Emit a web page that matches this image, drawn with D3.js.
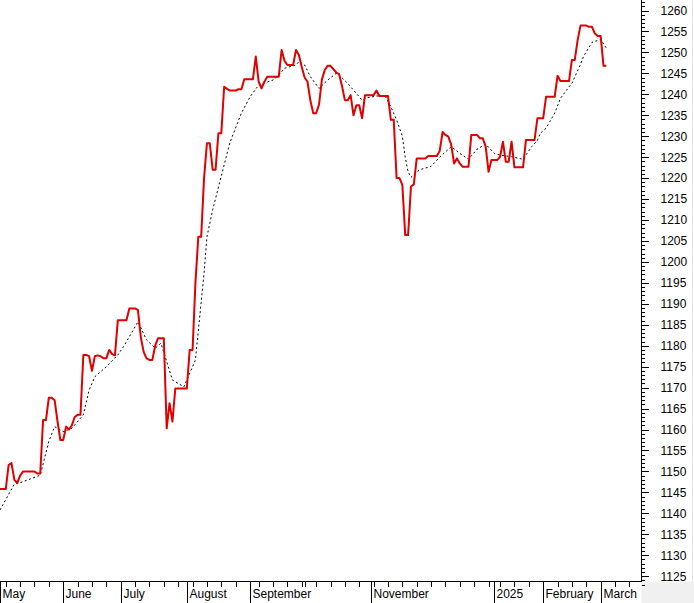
<!DOCTYPE html>
<html><head><meta charset="utf-8">
<script src="https://cdn.jsdelivr.net/npm/d3@7"></script>
<style>
body{margin:0;background:#fff}
svg{display:block}
text{font-family:"Liberation Sans",Arial,sans-serif;font-size:12px;fill:#000}
</style>
</head><body>
<svg id="c" width="694" height="603"></svg>
<script>
// ---- Daily closing values (trading days), by month ----
const may2024 = [1145.8,1145.8,1145.8,1151.5,1152.0,1148.0,1147.2,1149.0,1150,1150,1150,1150,1150,1149.5,1149.5,1162.3,1162.3,1167.6,1167.6,1167.0,1162.0,1157.5];
const jun2024 = [1157.5,1160.7,1160,1161,1163,1163.5,1163.5,1177.8,1177.8,1177.5,1174,1177.5,1177.7,1177.5,1177,1177,1179,1178,1177.7,1186.1];
const jul2024 = [1186.1,1186.1,1186.1,1188.9,1188.9,1188.9,1188.5,1182,1178.5,1177,1176.6,1176.6,1180,1181.8,1181.8,1181.8,1160.3,1166.3,1161.9,1169.8,1169.8,1169.8,1169.8];
const aug2024 = [1169.8,1179,1179,1195,1206,1206,1220,1228.3,1228.3,1222,1222,1230.7,1230.7,1241.8,1241.3,1240.9,1240.9,1240.9,1241.2,1241.2,1243.6,1243.6];
const sep2024 = [1243.6,1243.6,1249,1243,1241.4,1243,1244.2,1244.2,1244.2,1244.2,1244.2,1250.6,1248,1247,1247,1247,1250.6,1249.4,1246.5];
const oct2024 = [1244,1243,1238.5,1235.5,1235.5,1237.5,1243.5,1245.8,1246.8,1246.8,1246,1245.2,1244.8,1242,1238.6,1238.6,1239.8,1235,1237.4,1237.4,1234.3,1239.8,1239.8];
const nov2024 = [1239.8,1239.8,1240.9,1239.6,1239.6,1239.6,1239.6,1233.9,1233.9,1220,1220,1218.4,1206.4,1206.4,1218,1218.5,1224.7,1224.7,1224.7,1224.7,1225.3];
const dec2024 = [1225.3,1225.3,1225.3,1226.5,1231,1230.3,1229.9,1228,1223.5,1224.7,1223.5,1222.7,1222.7,1222.7,1230.3,1230.3,1230.3,1229.5,1229.5,1227.5,1221.5,1224.3];
const jan2025 = [1224.3,1224.3,1225.1,1228.7,1223.9,1223.9,1228.7,1222.6,1222.6,1222.6,1222.6,1229.1,1229.1,1229.1,1229.1,1234.3,1234.3];
const feb2025 = [1234.3,1239.4,1239.4,1239.4,1239.4,1244.4,1243.2,1243.2,1243.2,1243.2,1248.2,1248.2,1253,1256.4,1256.4,1256.4,1256.1,1256.1,1254.5,1253.9];
const mar2025 = [1253.9,1246.8,1246.8];

// ---- Moving average (dotted), trading-day index and value ----
const maDay = [0,5,7,14,17,19,22,25,29,31,33,37,41,43,48,51,54,56,60,64,68,71,72,74,77,80,84,87,90,95,97,99,103,104,106,108,111,114,117,118,121,124,126,128,131,134,136,138,140,141,142,143,146,150,153,157,158,160,163,166,169,172,174,178,182,185,187,188,190,191,193,195,198,199,202,203,206,209,211];
const maValue = [1140.8,1147,1147.3,1149.1,1157.2,1160.7,1159.5,1160.3,1163.5,1169.4,1172.6,1175,1177.8,1179.8,1185.7,1181.4,1179.4,1180.6,1171.8,1170.2,1176.6,1197.3,1206,1212.4,1220.5,1228.5,1235.5,1239.4,1242.2,1243.4,1244.6,1246.2,1247,1247.8,1247,1244.2,1241.4,1243.4,1245,1244.6,1242.6,1240.2,1238.6,1239.2,1239.6,1239.6,1237,1233.9,1230,1225,1221.5,1220.2,1222,1222.8,1225,1227.5,1227,1225.9,1224.5,1226.9,1228.1,1225.9,1225.5,1225.1,1224.5,1227.5,1229,1230.7,1231.9,1233.1,1235.5,1239,1241.8,1242.6,1247.2,1249,1252.4,1253.1,1251];

// ---- Axis labels (empty = month not labelled in the chart) ----
const monthLabels = ["May","June","July","August","September","","November","","2025","February","March"];
const monthStartDay = [0,22,42,65,87,106,129,150,172,189,209];
const weekTickDay = [2,7,12,17,27,32,37,47,52,57,62,67,72,77,82,90,95,100,105,110,115,120,125,130,135,140,145,155,160,165,170,174,179,184,194,199,204,214,219];
const yTickValues = [1125,1130,1135,1140,1145,1150,1155,1160,1165,1170,1175,1180,1185,1190,1195,1200,1205,1210,1215,1220,1225,1230,1235,1240,1245,1250,1255,1260];

const close = [].concat(may2024,jun2024,jul2024,aug2024,sep2024,oct2024,nov2024,dec2024,jan2025,feb2025,mar2025);
const ma = maDay.map((d,i)=>({d, v: maValue[i]}));

const W = 694, H = 603, axisX = 641.5, axisY = 581.5;
const svg = d3.select("#c");

const x = d3.scaleLinear().domain([0, close.length-1]).range([0, 606.4]);
const y = d3.scaleLinear().domain([1125, 1260]).range([576.2, 10.5]);

// background regions
svg.append("rect").attr("x",0).attr("y",0).attr("width",W).attr("height",H).attr("fill","#fff");
svg.append("rect").attr("x",axisX).attr("y",axisY).attr("width",W-axisX).attr("height",H-axisY).attr("fill","#f0f0f0");
svg.append("line").attr("x1",692.5).attr("x2",692.5).attr("y1",0).attr("y2",axisY).attr("stroke","#e3e3e3");

// clip for plot
svg.append("clipPath").attr("id","plot").append("rect").attr("x",0).attr("y",0).attr("width",axisX).attr("height",axisY);

// MA dotted line
svg.append("path").datum(ma)
  .attr("clip-path","url(#plot)")
  .attr("d", d3.line().x(d=>x(d.d)).y(d=>y(d.v)))
  .attr("fill","none").attr("stroke","#000").attr("stroke-width",1)
  .attr("stroke-dasharray","2,2.5");

// price line
svg.append("path").datum(close)
  .attr("clip-path","url(#plot)")
  .attr("d", d3.line().x((d,i)=>x(i)).y(d=>y(d)))
  .attr("fill","none").attr("stroke","#e00000").attr("stroke-width",2)
  .attr("stroke-linejoin","round");

// right axis
const minorVals = d3.range(1123, 1263, 1);
const minorAxis = d3.axisRight(y).tickValues(minorVals).tickSize(3).tickFormat("");
const gMinor = svg.append("g").attr("transform",`translate(${axisX},0)`).call(minorAxis);
gMinor.select(".domain").remove();
const majorAxis = d3.axisRight(y).tickValues(yTickValues).tickSize(7).tickPadding(12).tickFormat(d3.format("d"));
const gMajor = svg.append("g").attr("transform",`translate(${axisX},0)`).call(majorAxis);
gMajor.select(".domain").remove();
svg.selectAll(".tick line").attr("stroke","#000").attr("shape-rendering","crispEdges");
gMajor.selectAll("text").attr("font-family",null).attr("font-size",null).attr("fill","#000");
svg.append("line").attr("x1",axisX).attr("x2",axisX).attr("y1",0).attr("y2",axisY+0.5).attr("stroke","#000").attr("shape-rendering","crispEdges");

// bottom axis
svg.append("line").attr("x1",0).attr("x2",axisX).attr("y1",axisY).attr("y2",axisY).attr("stroke","#000").attr("shape-rendering","crispEdges");
const xw = d => Math.round(x(d)) + 0.5;
svg.append("g").selectAll("line").data(weekTickDay).join("line")
  .attr("x1",xw).attr("x2",xw).attr("y1",axisY).attr("y2",axisY+5)
  .attr("stroke","#000").attr("shape-rendering","crispEdges");
const gm = svg.append("g");
monthLabels.forEach((lab,i)=>{
  const px = xw(monthStartDay[i]);
  if (lab) {
    gm.append("line").attr("x1",px).attr("x2",px).attr("y1",axisY).attr("y2",H)
      .attr("stroke","#000").attr("shape-rendering","crispEdges");
    gm.append("text").attr("x",px+2).attr("y",597.5).text(lab);
  } else {
    gm.append("line").attr("x1",px).attr("x2",px).attr("y1",axisY).attr("y2",axisY+5)
      .attr("stroke","#000").attr("shape-rendering","crispEdges");
  }
});
</script>
</body></html>
